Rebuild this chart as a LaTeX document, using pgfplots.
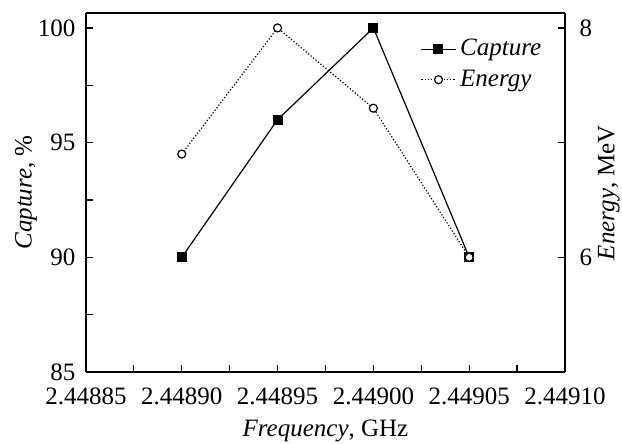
\documentclass[border=0pt]{standalone}
\usepackage{pgfplots}
\pgfplotsset{compat=1.18}
\usepackage{fontspec}
\setmainfont{Liberation Serif}

\begin{document}
\fontsize{12.5}{15}\selectfont
\begin{tikzpicture}
\pgfplotsset{
  common/.style={
    width=239.5pt, height=179.5pt, scale only axis,
    xmin=2.44885, xmax=2.44910,
    axis line style={line width=0.9pt},
    tick style={line width=0.6pt, black},
    major tick length=3.5pt, minor tick length=3.5pt,
    tick align=inside,
    /pgf/number format/assume math mode=true,
  }
}
\begin{axis}[common,
  axis y line*=left,
  ymin=85, ymax=100.65,
  ytick={85,90,95,100}, minor ytick={87.5,92.5,97.5},
  xtick={2.44885,2.44890,2.44895,2.44900,2.44905,2.44910},
  minor x tick num=1,
  xtick pos=left,
  scaled x ticks=false,
  xticklabel style={yshift=-3.5pt, /pgf/number format/.cd, fixed, fixed zerofill, precision=5},
  yticklabel style={xshift=-1pt},
  xlabel={\textit{Frequency}, GHz},
  ylabel={\textit{Capture}, \%},
  every axis x label/.style={at={(rel axis cs:0.5,0)}, yshift=-29.5pt, anchor=center},
  every axis y label/.style={at={(rel axis cs:0,0.5)}, xshift=-30pt, rotate=90, anchor=center},
]
\addplot[black, line width=0.6pt, mark=square*, mark size=2.2pt]
  coordinates {(2.44890,90) (2.44895,96) (2.44900,100) (2.44905,90)};
\path (rel axis cs:0,0) ++(-43pt,-36pt) coordinate (bl);
\path (rel axis cs:1,1) ++(28.5pt,6.5pt) coordinate (tr);
\end{axis}
\begin{axis}[common,
  axis y line*=right, axis x line=none,
  ymin=5, ymax=8.13,
  ytick={6,8}, minor ytick={7},
  yticklabel style={xshift=3pt},
  ylabel={\textit{Energy}, MeV},
  every axis y label/.style={at={(rel axis cs:1,0.5)}, xshift=22pt, rotate=90, anchor=center},
  legend style={draw=none, fill=none, at={(rel axis cs:0.972,0.95)}, anchor=north east,
    font=\itshape, row sep=1pt},
  legend cell align=left,
]
\addlegendimage{black, line width=0.6pt, mark=square*, mark size=2.2pt}
\addlegendentry{Capture}
\addplot[black, line width=0.6pt, densely dotted, mark=*, mark size=2pt,
  mark options={solid, fill=white}]
  coordinates {(2.44890,6.9) (2.44895,8) (2.44900,7.3) (2.44905,6)};
\addlegendentry{Energy}
\end{axis}
\pgfresetboundingbox
\path (bl) rectangle (tr);
\end{tikzpicture}
\end{document}
